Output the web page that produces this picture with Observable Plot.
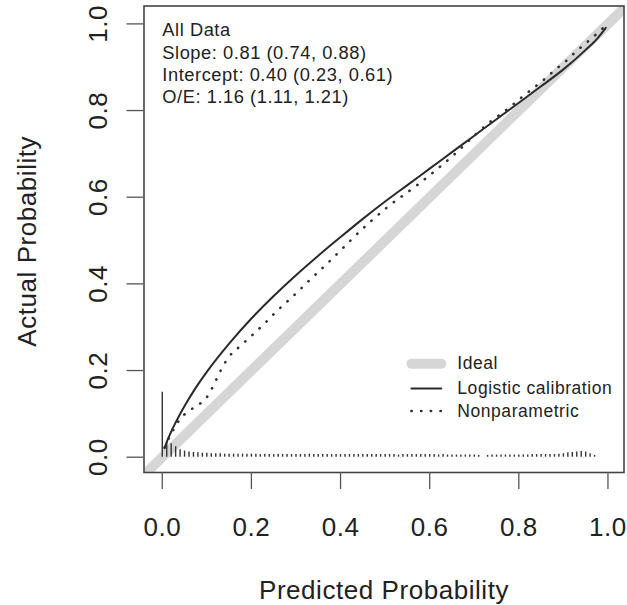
<!DOCTYPE html>
<html><head><meta charset="utf-8">
<script src="https://cdn.jsdelivr.net/npm/d3@7"></script>
<script src="https://cdn.jsdelivr.net/npm/@observablehq/plot@0.6"></script>
<style>
html,body{margin:0;padding:0;background:#fff;}
#chart svg text{letter-spacing:0.55px;}
</style></head><body><div id="chart"></div>
<script>
// ---- data ----
const predLogistic = [0.005,0.01,0.02,0.03,0.05,0.075,0.1,0.15,0.2,0.25,0.3,0.35,0.4,0.45,0.5,0.55,0.6,0.65,0.7,0.75,0.8,0.85,0.9,0.95,0.975,0.995];
const obsLogistic  = [0.021,0.035,0.059,0.080,0.118,0.160,0.197,0.262,0.320,0.372,0.420,0.465,0.508,0.550,0.590,0.628,0.666,0.704,0.742,0.780,0.818,0.856,0.895,0.940,0.965,0.991];

const predNonpar = [0.005,0.02,0.04,0.056,0.075,0.09,0.105,0.116,0.131,0.149,0.172,0.198,0.228,0.254,0.30,0.33,0.363,0.40,0.43,0.505,0.572,0.617,0.66,0.70,0.737,0.774,0.80,0.819,0.845,0.864,0.879,0.909,0.927,0.95,0.969,0.995];
const obsNonpar  = [0.022,0.054,0.088,0.104,0.117,0.128,0.146,0.168,0.200,0.231,0.254,0.278,0.307,0.334,0.378,0.408,0.440,0.477,0.508,0.577,0.628,0.665,0.703,0.742,0.775,0.803,0.825,0.841,0.862,0.878,0.892,0.917,0.935,0.955,0.972,0.996];

const spikeBins = [0.00,0.01,0.02,0.03,0.04,0.05,0.06,0.07,0.08,0.09,
  0.10,0.11,0.12,0.13,0.14,0.15,0.16,0.17,0.18,0.19,
  0.20,0.21,0.22,0.23,0.24,0.25,0.26,0.27,0.28,0.29,
  0.30,0.31,0.32,0.33,0.34,0.35,0.36,0.37,0.38,0.39,
  0.40,0.41,0.42,0.43,0.44,0.45,0.46,0.47,0.48,0.49,
  0.50,0.51,0.52,0.53,0.54,0.55,0.56,0.57,0.58,0.59,
  0.60,0.61,0.62,0.63,0.64,0.65,0.66,0.67,0.68,0.69,
  0.70,0.71,0.73,0.74,0.75,0.76,0.77,0.78,0.79,
  0.80,0.81,0.82,0.83,0.84,0.85,0.86,0.87,0.88,0.89,
  0.90,0.91,0.92,0.93,0.94,0.95,0.96,0.97];
const spikeHeights = [0.150,0.036,0.031,0.024,0.017,0.014,0.012,0.011,0.010,0.009,
  0.009,0.008,0.008,0.008,0.007,0.007,0.007,0.007,0.007,0.007,
  0.007,0.007,0.006,0.007,0.006,0.006,0.007,0.006,0.006,0.006,
  0.006,0.006,0.006,0.007,0.006,0.006,0.006,0.006,0.006,0.006,
  0.006,0.006,0.006,0.006,0.006,0.006,0.006,0.006,0.006,0.006,
  0.006,0.006,0.006,0.005,0.006,0.006,0.006,0.006,0.006,0.006,
  0.006,0.006,0.005,0.006,0.005,0.005,0.005,0.005,0.005,0.005,
  0.005,0.004,0.004,0.005,0.005,0.005,0.005,0.005,0.005,
  0.005,0.005,0.005,0.006,0.006,0.006,0.006,0.006,0.006,0.007,
  0.008,0.010,0.011,0.012,0.013,0.012,0.008,0.004];

const axisTicks = [0,0.2,0.4,0.6,0.8,1.0];
const tickLabels = ["0.0","0.2","0.4","0.6","0.8","1.0"];
const idealLine = [-0.1, 1.1];
const statsLines = ["All Data","Slope: 0.81 (0.74, 0.88)","Intercept: 0.40 (0.23, 0.61)","O/E: 1.16 (1.11, 1.21)"];
const legendLabels = ["Ideal","Logistic calibration","Nonparametric"];
const xTitle = "Predicted Probability";
const yTitle = "Actual Probability";

// ---- layout (not data) ----
const legendRowY = [0.2156, 0.1586, 0.1066];
const legendSymX = [0.559, 0.626];
const legendTextX = 0.662;

const logistic = predLogistic.map((x,i)=>({x, y: obsLogistic[i]}));
const nonpar = predNonpar.map((x,i)=>({x, y: obsNonpar[i]}));
const spikes = spikeBins.map((x,i)=>({x, h: spikeHeights[i]}));

const dark = "#2a2a2a";
const dots = {stroke: "#333", strokeWidth: 2.6, strokeDasharray: "0.3,9.4", strokeLinecap: "round"};
const chart = Plot.plot({
  width: 627, height: 605,
  marginLeft: 143.5, marginRight: 3.5, marginTop: 5.5, marginBottom: 133,
  x: {domain: [-0.041, 1.036]},
  y: {domain: [-0.0353, 1.0413]},
  style: {fontFamily: "'Liberation Sans', Arial, Helvetica, sans-serif", color: "#222", background: "#fff", overflow: "visible"},
  marks: [
    Plot.line(idealLine, {x: d=>d, y: d=>d, stroke: "#d6d6d6", strokeWidth: 10, clip: true}),
    Plot.ruleX(spikes, {x: "x", y1: 0, y2: "h", stroke: "#333", strokeWidth: 1.4}),
    Plot.line(logistic, {x: "x", y: "y", stroke: dark, strokeWidth: 2, curve: "monotone-x"}),
    Plot.line(nonpar, {x: "x", y: "y", ...dots, curve: "monotone-x"}),
    Plot.frame({stroke: "#444", strokeWidth: 1.6}),
    Plot.axisX({ticks: axisTicks, tickSize: 17, tickPadding: 28, fontSize: 26, stroke: "#555", strokeWidth: 1.3,
      tickFormat: d => tickLabels[axisTicks.indexOf(d)], label: null}),
    Plot.axisY({ticks: axisTicks, tickSize: 17, stroke: "#555", strokeWidth: 1.3, tickFormat: () => "", label: null}),
    Plot.text(axisTicks, {y: d=>d, text: (d,i)=>tickLabels[i], frameAnchor: "left", dx: -45.8, rotate: -90,
      textAnchor: "middle", lineAnchor: "middle", fontSize: 26, fill: "#222"}),
    Plot.text([xTitle], {frameAnchor: "bottom", dy: 126, lineAnchor: "bottom", textAnchor: "middle", fontSize: 26, fill: "#222"}),
    Plot.text([yTitle], {frameAnchor: "left", dx: -116.3, dy: 2, rotate: -90, lineAnchor: "middle", textAnchor: "middle", fontSize: 26, fill: "#222"}),
    Plot.text([statsLines.join("\n")], {frameAnchor: "top-left", dx: 18.3, dy: 14.5, lineAnchor: "top", textAnchor: "start", lineHeight: 1.22, fontSize: 18.3, fill: "#222"}),
    // legend
    Plot.line(legendSymX, {x: d=>d, y: () => legendRowY[0], stroke: "#d6d6d6", strokeWidth: 10, strokeLinecap: "round"}),
    Plot.line(legendSymX, {x: d=>d, y: () => legendRowY[1], stroke: dark, strokeWidth: 2}),
    Plot.line([legendSymX[0], legendSymX[1]+0.004], {x: d=>d, y: () => legendRowY[2], ...dots}),
    Plot.text(legendLabels, {x: legendTextX, y: (d,i)=>legendRowY[i], text: d=>d, textAnchor: "start", lineAnchor: "middle", fontSize: 17.5, fill: "#222"})
  ]
});
document.getElementById("chart").appendChild(chart);
</script></body></html>
